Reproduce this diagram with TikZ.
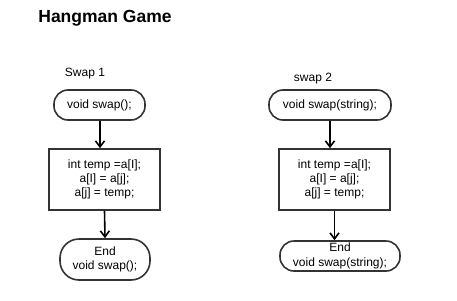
\documentclass[tikz,border=0pt]{standalone}
\usepackage{fontspec}
\setmainfont{Liberation Sans}
\usetikzlibrary{arrows.meta}
\begin{document}
\begin{tikzpicture}[x=1pt,y=-1pt,
  lc/.style={draw=black!80, line width=1.6pt},
  term/.style={lc, rounded corners=14pt, inner sep=0pt, align=center,
    font=\fontsize{12}{14}\selectfont},
  proc/.style={lc, inner sep=0pt, align=center,
    font=\fontsize{12}{14}\selectfont},
  flow/.style={black, line width=1.6pt, -{Straight Barb[length=6pt,width=9pt,line width=1.6pt]}},
  lbl/.style={font=\fontsize{12}{14}\selectfont}]
\useasboundingbox (0,0) rectangle (457,300);

\node[font=\bfseries\fontsize{17.5}{20}\selectfont] (title) at (105,18) {Hangman Game};

% first routine
\node[lbl] (l1) at (85,74) {Swap 1};
\node[term, minimum width=91pt, minimum height=30pt] (s1) at (99.5,105) {void swap();};
\node[proc, minimum width=111pt, minimum height=61pt] (p1) at (104.5,179.5) {int temp =a[I];\\a[I] = a[j];\\a[j] = temp;};
\node[term, rounded corners=19pt, minimum width=90pt, minimum height=41pt] (e1) at (105,259.5) {End\\void swap();};
\draw[flow] (s1.south -| 100,0) -- (p1.north -| 100,0);
\draw[flow] (p1.south) -- (e1.north);

% second routine
\node[lbl] (l2) at (313,79) {swap 2};
\node[term, minimum width=122pt, minimum height=30pt] (s2) at (330,105) {void swap(string);};
\node[proc, minimum width=111pt, minimum height=61pt] (p2) at (334.5,179.5) {int temp =a[I];\\a[I] = a[j];\\a[j] = temp;};
\node[term, rounded corners=14pt, minimum width=120pt, minimum height=30pt, font=\fontsize{12}{14.5}\selectfont] (e2) at (340,256) {End\\void swap(string);};
\draw[flow] (s2.south) -- (s2.south |- p2.north);
\draw[flow] (p2.south) -- (p2.south |- e2.north);
\end{tikzpicture}
\end{document}
